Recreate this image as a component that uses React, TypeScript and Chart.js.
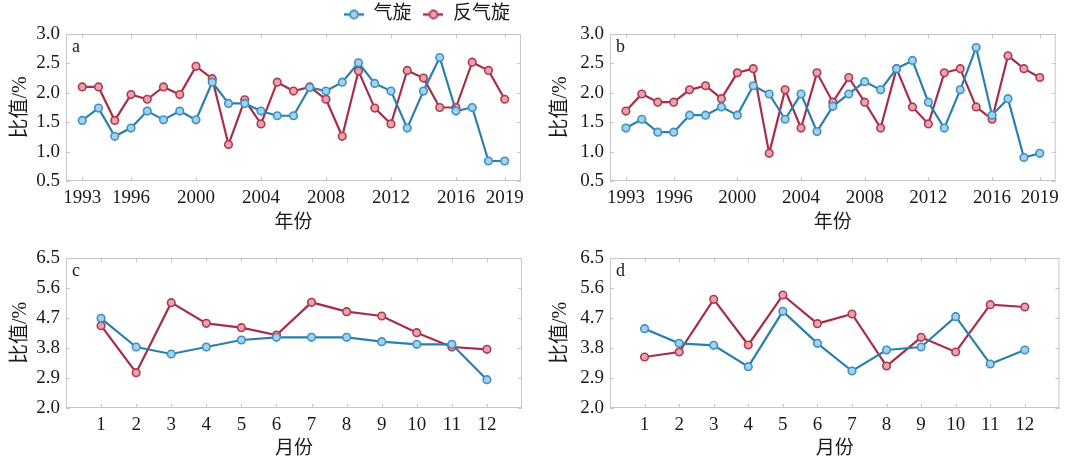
import React, { useEffect, useRef } from 'react';
import { Chart, registerables } from 'chart.js';

Chart.register(...registerables);

// ---------- data ----------
const years = [1993, 1994, 1995, 1996, 1997, 1998, 1999, 2000, 2001, 2002, 2003, 2004, 2005, 2006, 2007, 2008, 2009, 2010, 2011, 2012, 2013, 2014, 2015, 2016, 2017, 2018, 2019];
const yearTicks = [1993, 1996, 2000, 2004, 2008, 2012, 2016, 2019];
const months = [1, 2, 3, 4, 5, 6, 7, 8, 9, 10, 11, 12];
const yearRatioTicks = [0.5, 1.0, 1.5, 2.0, 2.5, 3.0];
const monthRatioTicks = [2.0, 2.9, 3.8, 4.7, 5.6, 6.5];

const seriesNames = ['气旋', '反气旋'];

const cycloneA = [1.53, 1.74, 1.26, 1.40, 1.69, 1.54, 1.69, 1.54, 2.18, 1.82, 1.82, 1.69, 1.61, 1.61, 2.09, 2.03, 2.18, 2.51, 2.16, 2.03, 1.40, 2.03, 2.60, 1.69, 1.75, 0.84, 0.84];
const anticycloneA = [2.10, 2.10, 1.53, 1.97, 1.89, 2.10, 1.97, 2.45, 2.24, 1.12, 1.88, 1.47, 2.18, 2.03, 2.10, 1.89, 1.26, 2.37, 1.74, 1.47, 2.38, 2.25, 1.75, 1.75, 2.52, 2.38, 1.89];

const cycloneB = [1.40, 1.55, 1.33, 1.33, 1.62, 1.62, 1.76, 1.62, 2.12, 1.98, 1.55, 1.98, 1.34, 1.77, 1.98, 2.19, 2.05, 2.41, 2.55, 1.84, 1.40, 2.05, 2.77, 1.62, 1.90, 0.90, 0.97];
const anticycloneB = [1.69, 1.98, 1.84, 1.84, 2.05, 2.12, 1.90, 2.34, 2.41, 0.97, 2.05, 1.40, 2.34, 1.84, 2.26, 1.84, 1.40, 2.41, 1.76, 1.47, 2.34, 2.41, 1.76, 1.55, 2.63, 2.41, 2.26];

const cycloneC = [4.69, 3.83, 3.62, 3.83, 4.04, 4.12, 4.12, 4.12, 3.99, 3.91, 3.91, 2.85];
const anticycloneC = [4.47, 3.06, 5.16, 4.54, 4.41, 4.19, 5.17, 4.89, 4.76, 4.26, 3.83, 3.76];

const cycloneD = [4.38, 3.94, 3.88, 3.24, 4.90, 3.94, 3.11, 3.74, 3.83, 4.74, 3.32, 3.74];
const anticycloneD = [3.53, 3.68, 5.26, 3.89, 5.39, 4.53, 4.82, 3.26, 4.12, 3.68, 5.10, 5.03];

// ---------- styles ----------
const BLUE = '#2a80ad';
const BLUE_PT = '#3a93c8';
const BLUE_FILL = '#a9d0e8';
const RED = '#a62e48';
const RED_PT = '#b3394f';
const RED_FILL = '#e2a6b2';
const TEXT = '#1a1a1a';
const FRAME = '#c6c6c6';
const NUM_FONT = '"Liberation Serif", "Times New Roman", serif';
const CJK_FONT = '"Liberation Serif", "Noto Sans CJK SC", serif';

function makeIcon(line: string, pt: string, fill: string) {
  const c = document.createElement('canvas');
  c.width = 20;
  c.height = 12;
  const ctx = c.getContext('2d')!;
  ctx.strokeStyle = line;
  ctx.lineWidth = 2.5;
  ctx.beginPath();
  ctx.moveTo(0, 6);
  ctx.lineTo(20, 6);
  ctx.stroke();
  ctx.fillStyle = fill;
  ctx.strokeStyle = pt;
  ctx.lineWidth = 1.8;
  ctx.beginPath();
  ctx.arc(10, 6, 4, 0, Math.PI * 2);
  ctx.fill();
  ctx.stroke();
  return c;
}

const framePlugin = {
  id: 'frame',
  beforeDatasetsDraw(chart: any, _args: any, opts: any) {
    const { ctx, chartArea: a, scales } = chart;
    ctx.save();
    ctx.strokeStyle = FRAME;
    ctx.lineWidth = 1;
    ctx.strokeRect(a.left + 0.5, a.top + 0.5, a.right - a.left - 1, a.bottom - a.top - 1);
    const L = 4;
    ctx.beginPath();
    scales.x.ticks.forEach((t: any) => {
      const px = Math.round(scales.x.getPixelForValue(t.value)) + 0.5;
      ctx.moveTo(px, a.bottom);
      ctx.lineTo(px, a.bottom - L);
      ctx.moveTo(px, a.top);
      ctx.lineTo(px, a.top + L);
    });
    scales.y.ticks.forEach((t: any) => {
      const py = Math.round(scales.y.getPixelForValue(t.value)) + 0.5;
      ctx.moveTo(a.left, py);
      ctx.lineTo(a.left + L, py);
      ctx.moveTo(a.right, py);
      ctx.lineTo(a.right - L, py);
    });
    ctx.stroke();
    ctx.fillStyle = TEXT;
    ctx.font = '18px ' + NUM_FONT;
    ctx.textBaseline = 'alphabetic';
    ctx.fillText(opts.letter, a.left + 6, a.top + 18);
    ctx.restore();
  },
};

type PanelProps = {
  letter: string;
  xs: number[];
  xTicks: number[];
  xMin: number;
  xMax: number;
  yTicks: number[];
  cyc: number[];
  anti: number[];
  xTitle: string;
  left: number;
  top: number;
  width: number;
  height: number;
  yAxisW: number;
  xAxisH: number;
  padTop: number;
  padRight: number;
  xTitleBottom: number;
  legend?: boolean;
};

function Panel(p: PanelProps) {
  const ref = useRef<HTMLCanvasElement>(null);
  useEffect(() => {
    if (!ref.current) return;
    const icons = [makeIcon(BLUE, BLUE_PT, BLUE_FILL), makeIcon(RED, RED_PT, RED_FILL)];
    const ds = (name: string, vals: number[], line: string, pt: string, fill: string) => ({
      label: name,
      data: p.xs.map((x, i) => ({ x, y: vals[i] })),
      borderColor: line,
      borderWidth: 2.2,
      pointRadius: 3.8,
      pointBorderWidth: 1.6,
      pointBorderColor: pt,
      pointBackgroundColor: fill,
      tension: 0,
    });
    const chart = new Chart(ref.current, {
      type: 'line',
      data: {
        datasets: [
          ds(seriesNames[0], p.cyc, BLUE, BLUE_PT, BLUE_FILL),
          ds(seriesNames[1], p.anti, RED, RED_PT, RED_FILL),
        ],
      },
      plugins: [framePlugin],
      options: {
        animation: false,
        responsive: false,
        layout: { padding: { top: p.padTop, right: p.padRight, left: 0, bottom: 0 } },
        plugins: {
          tooltip: { enabled: false },
          frame: { letter: p.letter },
          legend: {
            display: !!p.legend,
            position: 'top',
            align: 'end',
            labels: {
              usePointStyle: true,
              pointStyleWidth: 20,
              boxWidth: 20,
              boxHeight: 12,
              padding: 12,
              color: TEXT,
              font: { family: CJK_FONT, size: 19, lineHeight: 0.75 },
              generateLabels: (c: any) => {
                const items = (Chart.defaults.plugins.legend.labels as any).generateLabels(c);
                return items.map((it: any, i: number) => ({ ...it, pointStyle: icons[i] }));
              },
            },
          },
        } as any,
        scales: {
          x: {
            type: 'linear',
            min: p.xMin,
            max: p.xMax,
            afterBuildTicks: (s: any) => {
              s.ticks = p.xTicks.map((v) => ({ value: v }));
            },
            afterFit: (s: any) => {
              s.height = p.xAxisH;
            },
            grid: { display: false, drawTicks: false },
            border: { display: false },
            ticks: {
              padding: 6,
              color: TEXT,
              font: { family: NUM_FONT, size: 19 },
              maxRotation: 0,
              autoSkip: false,
              callback: (v: any) => String(v),
            },
            title: {
              display: true,
              text: p.xTitle,
              color: TEXT,
              font: { family: CJK_FONT, size: 19 },
              padding: { top: 2, bottom: p.xTitleBottom },
            },
          },
          y: {
            type: 'linear',
            min: p.yTicks[0],
            max: p.yTicks[p.yTicks.length - 1],
            afterBuildTicks: (s: any) => {
              s.ticks = p.yTicks.map((v) => ({ value: v }));
            },
            afterFit: (s: any) => {
              s.width = p.yAxisW;
            },
            grid: { display: false, drawTicks: false },
            border: { display: false },
            ticks: {
              padding: 6,
              color: TEXT,
              font: { family: NUM_FONT, size: 19 },
              callback: (v: any) => Number(v).toFixed(1),
            },
            title: {
              display: true,
              text: '比值/%',
              color: TEXT,
              font: { family: CJK_FONT, size: 20 },
              padding: { top: 9, bottom: 4 },
            },
          },
        },
      } as any,
    });
    return () => chart.destroy();
  }, []);
  return (
    <canvas
      ref={ref}
      width={p.width}
      height={p.height}
      style={{ position: 'absolute', left: p.left, top: p.top, width: p.width, height: p.height }}
    />
  );
}

export default function App() {
  useEffect(() => {
    document.body.style.margin = '0';
    document.body.style.background = '#ffffff';
  }, []);
  return (
    <div style={{ position: 'absolute', left: 0, top: 0, width: 1065, height: 463, background: '#fff' }}>
      <Panel letter="a" xs={years} xTicks={yearTicks} xMin={1992} xMax={2020} yTicks={yearRatioTicks}
        cyc={cycloneA} anti={anticycloneA} xTitle="年份"
        left={0} top={0} width={530} height={240} yAxisW={66} xAxisH={59} padTop={-7} padRight={8}
        xTitleBottom={6} legend />
      <Panel letter="b" xs={years} xTicks={yearTicks} xMin={1992} xMax={2020} yTicks={yearRatioTicks}
        cyc={cycloneB} anti={anticycloneB} xTitle="年份"
        left={540} top={0} width={525} height={240} yAxisW={70} xAxisH={59} padTop={34} padRight={4}
        xTitleBottom={6} />
      <Panel letter="c" xs={months} xTicks={months} xMin={0} xMax={13} yTicks={monthRatioTicks}
        cyc={cycloneC} anti={anticycloneC} xTitle="月份"
        left={0} top={240} width={530} height={223} yAxisW={66} xAxisH={55} padTop={18} padRight={8}
        xTitleBottom={3} />
      <Panel letter="d" xs={months} xTicks={months} xMin={0} xMax={13} yTicks={monthRatioTicks}
        cyc={cycloneD} anti={anticycloneD} xTitle="月份"
        left={540} top={240} width={525} height={223} yAxisW={70} xAxisH={55} padTop={18} padRight={2}
        xTitleBottom={3} />
    </div>
  );
}
